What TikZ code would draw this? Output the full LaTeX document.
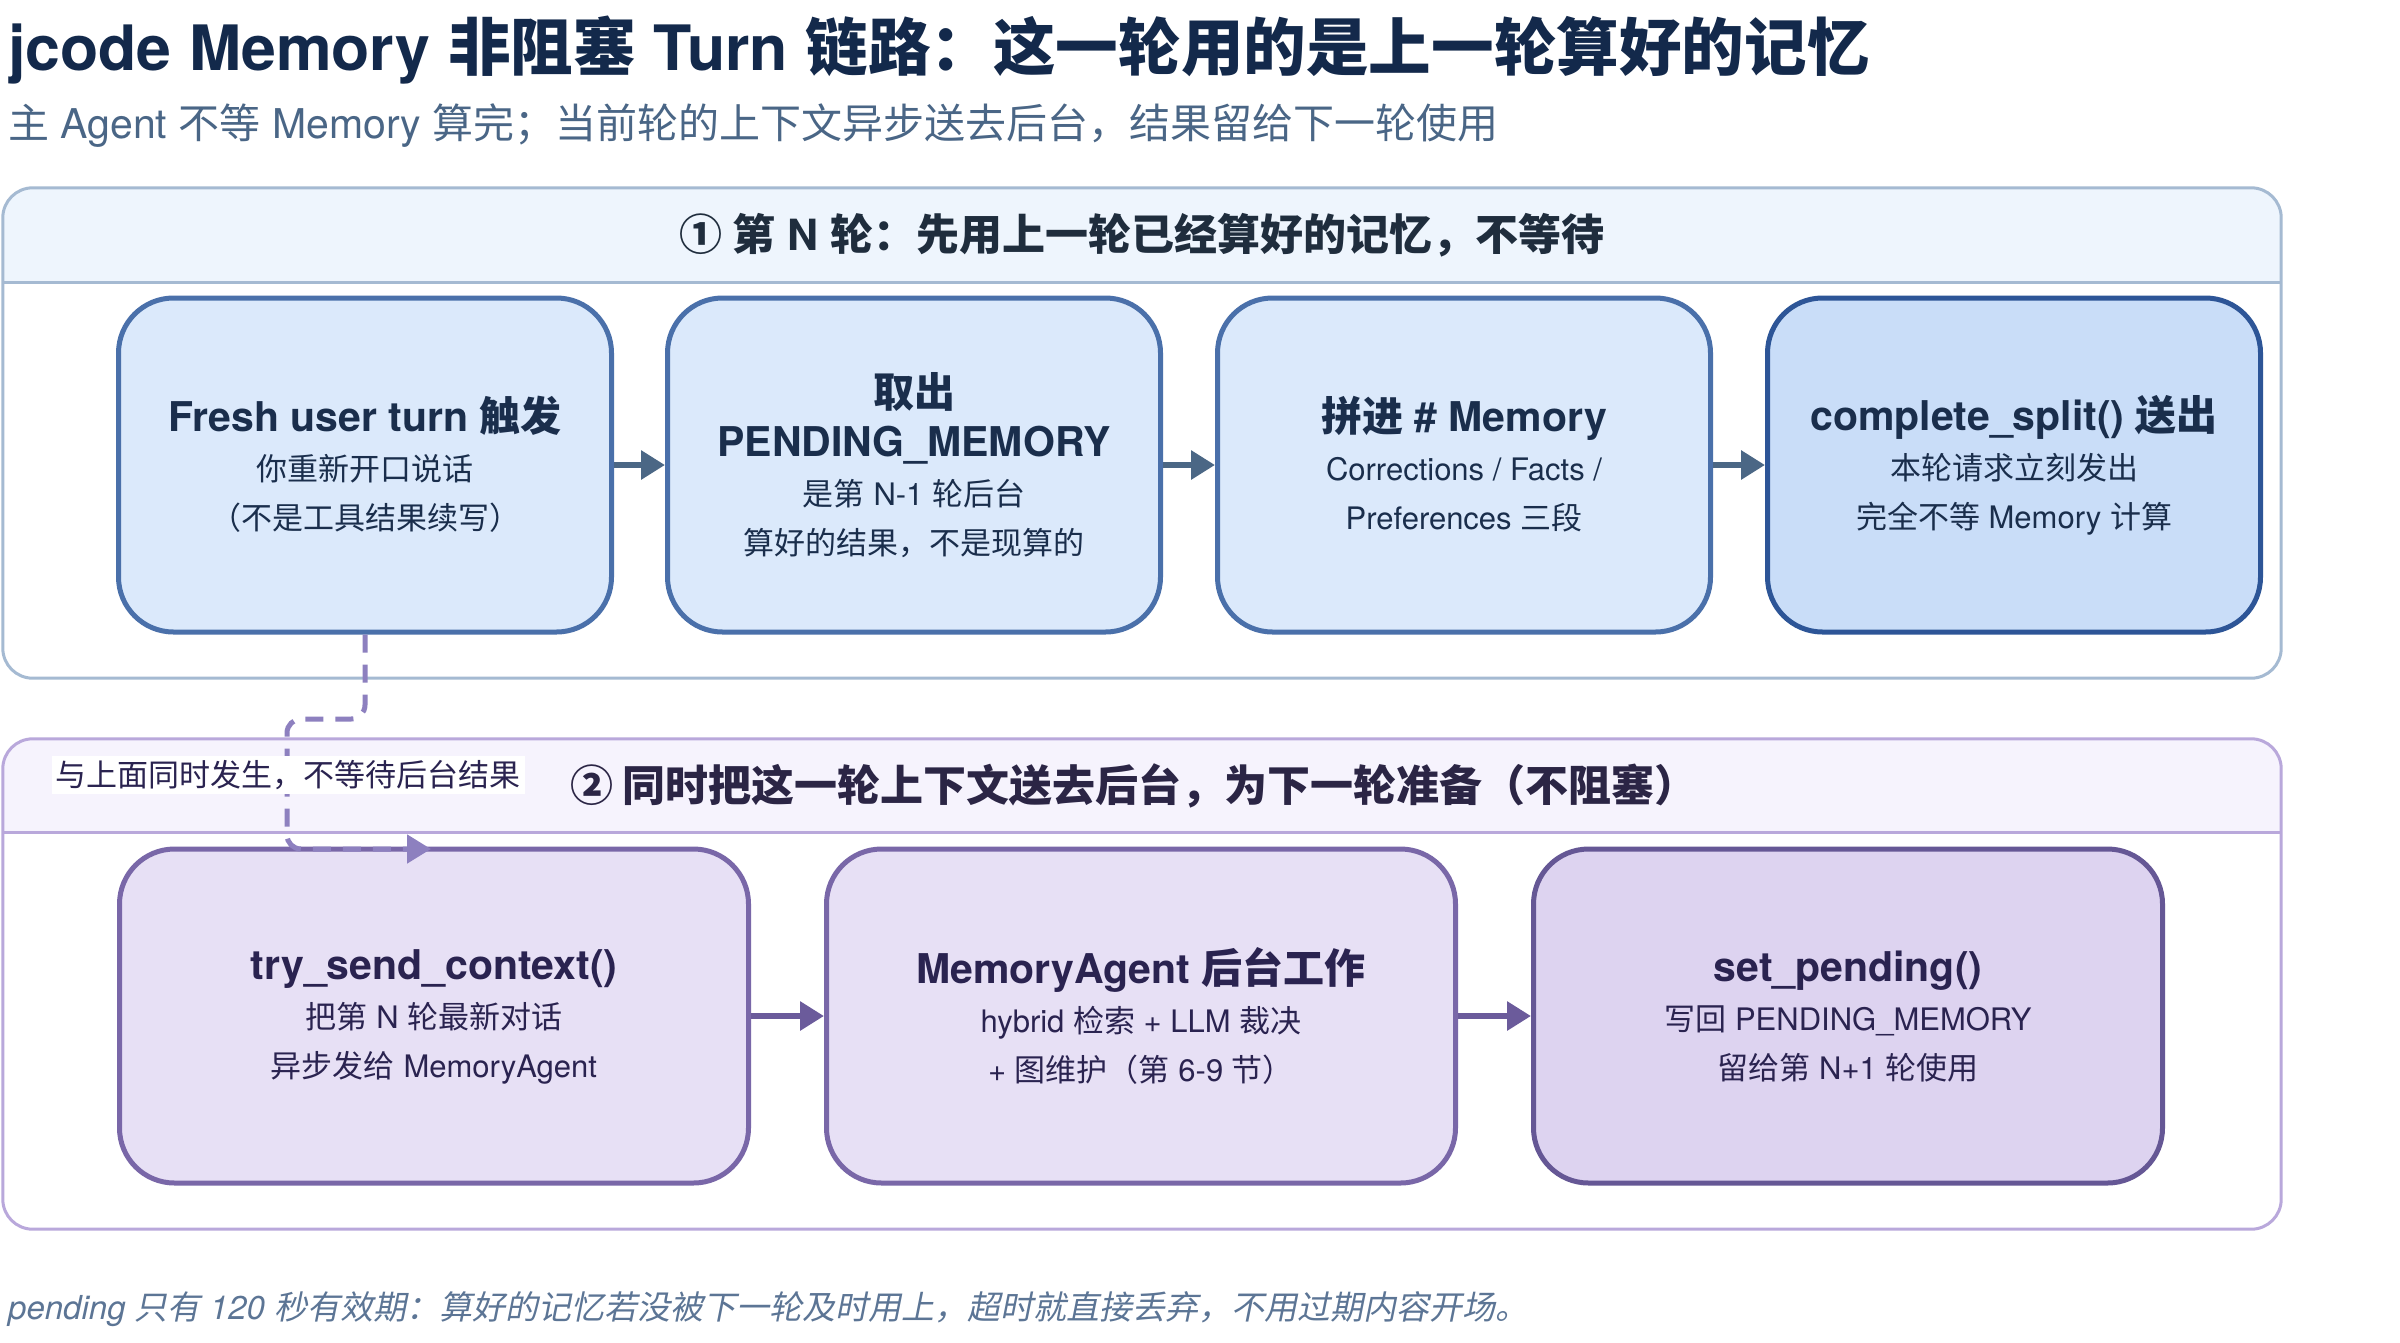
\documentclass[tikz,border=0pt]{standalone}
\usepackage{fontspec}
\setmainfont{TeX Gyre Heros}
\newfontfamily\cjk{Noto Sans CJK SC}
\newfontfamily\cjkit[FakeSlant=0.2]{Noto Sans CJK SC}
\usetikzlibrary{arrows.meta}
\newcommand\zh[1]{{\cjk #1}}
\newcommand\zhi[1]{{\cjkit #1}}
\definecolor{titlec}{HTML}{13294B}
\definecolor{subc}{HTML}{4A6686}
\definecolor{footc}{HTML}{5C7595}
\definecolor{ponel}{HTML}{A5BAD2}
\definecolor{ponehead}{HTML}{EEF5FD}
\definecolor{ptwol}{HTML}{B9A8DB}
\definecolor{ptwohead}{HTML}{F6F3FD}
\definecolor{bbfill}{HTML}{DBE9FB}
\definecolor{bbline}{HTML}{4A70AA}
\definecolor{bbfilld}{HTML}{C9DDF8}
\definecolor{bblined}{HTML}{2D5597}
\definecolor{bbtext}{HTML}{1A2E4C}
\definecolor{arrblue}{HTML}{4B6785}
\definecolor{pbfill}{HTML}{E7E0F5}
\definecolor{pbline}{HTML}{7967A8}
\definecolor{pbfilld}{HTML}{DDD3F0}
\definecolor{pblined}{HTML}{655795}
\definecolor{pbtext}{HTML}{2A2350}
\definecolor{arrpurp}{HTML}{6B5B9B}
\definecolor{dashc}{HTML}{8D80BF}
\definecolor{headtext}{HTML}{1F2D3D}
\definecolor{headtexttwo}{HTML}{2B2545}
\tikzset{
  bluebox/.style={draw=bbline, fill=bbfill, line width=5pt, rounded corners=55pt,
    minimum width=493pt, minimum height=334pt, align=center, text=bbtext,
    font=\fontsize{31}{49}\selectfont, inner sep=0pt},
  purpbox/.style={draw=pbline, fill=pbfill, line width=5pt, rounded corners=55pt,
    minimum width=629pt, minimum height=334pt, align=center, text=pbtext,
    font=\fontsize{31}{49}\selectfont, inner sep=0pt},
  arrb/.style={draw=arrblue, line width=6pt, -{Triangle[length=24pt,width=28pt]}},
  arrp/.style={draw=arrpurp, line width=6pt, -{Triangle[length=24pt,width=28pt]}},
  dashconn/.style={draw=dashc, line width=5pt, dash pattern=on 18pt off 12pt,
    rounded corners=14pt, -{Triangle[length=24pt,width=28pt]}},
  headlbl/.style={font=\bfseries\fontsize{43}{50}\selectfont, inner sep=0pt},
  panelbg/.style={fill=white, minimum width=2278pt, minimum height=490pt, inner sep=0pt},
}
\newcommand\ttl[1]{{\bfseries\fontsize{41}{49}\selectfont\rule[-10pt]{0pt}{42pt}#1}}
\newcommand\lst{\rule[-4pt]{0pt}{10pt}}
\begin{document}
\begin{tikzpicture}[x=1pt,y=-1pt]
\useasboundingbox (0,0) rectangle (2400,1342);
\fill[white] (0,0) rectangle (2400,1342);

% title and subtitle
\node[anchor=base west, inner sep=0pt, text=titlec, font=\bfseries\fontsize{62.6}{70}\selectfont]
  (title) at (8,70) {jcode Memory \zh{非阻塞} Turn \zh{链路：这一轮用的是上一轮算好的记忆}};
\node[anchor=base west, inner sep=0pt, text=subc, font=\fontsize{41}{48}\selectfont]
  (subtitle) at (8,138) {\zh{主} Agent \zh{不等} Memory \zh{算完；当前轮的上下文异步送去后台，结果留给下一轮使用}};

% panel 1
\node[panelbg] (pan1) at (1142,433) {};
\begin{scope}
  \clip[rounded corners=30pt] (pan1.north west) rectangle (pan1.south east);
  \fill[ponehead] (pan1.north west) rectangle (2281,282);
\end{scope}
\draw[ponel, line width=3pt] (3,282) -- (2281,282);
\draw[ponel, line width=3pt, rounded corners=30pt] (pan1.north west) rectangle (pan1.south east);
\node[headlbl, text=headtext] (h1) at (1142,235)
  {\zh{① 第} N \zh{轮：先用上一轮已经算好的记忆，不等待}};

% panel 2
\node[panelbg] (pan2) at (1142,984) {};
\begin{scope}
  \clip[rounded corners=30pt] (pan2.north west) rectangle (pan2.south east);
  \fill[ptwohead] (pan2.north west) rectangle (2281,832);
\end{scope}
\draw[ptwol, line width=3pt] (3,832) -- (2281,832);
\draw[ptwol, line width=3pt, rounded corners=30pt] (pan2.north west) rectangle (pan2.south east);
\node[headlbl, text=headtexttwo] (h2) at (1134,786)
  {\zh{② 同时把这一轮上下文送去后台，为下一轮准备（不阻塞）}};

% row 1 boxes
\node[bluebox] (b1) at (365,465)
  {\ttl{Fresh user turn \zh{触发}}\\ \zh{你重新开口说话}\\ \zh{（不是工具结果续写）}\lst};
\node[bluebox] (b2) at (914,465)
  {\ttl{\zh{取出}}\\ \ttl{PENDING\_MEMORY}\\ \zh{是第} N-1 \zh{轮后台}\\ \zh{算好的结果，不是现算的}\lst};
\node[bluebox] (b3) at (1464,465)
  {\ttl{\zh{拼进} \# Memory}\\ Corrections / Facts /\\ Preferences \zh{三段}\lst};
\node[bluebox, fill=bbfilld, draw=bblined] (b4) at (2014,465)
  {\ttl{complete\_split() \zh{送出}}\\ \zh{本轮请求立刻发出}\\ \zh{完全不等} Memory \zh{计算}\lst};

\draw[arrb] (b1.east) -- (b2.west);
\draw[arrb] (b2.east) -- (b3.west);
\draw[arrb] (b3.east) -- (b4.west);

% row 2 boxes
\node[purpbox] (a1) at (434,1016)
  {\ttl{try\_send\_context()}\\ \zh{把第} N \zh{轮最新对话}\\ \zh{异步发给} MemoryAgent\lst};
\node[purpbox] (a2) at (1141,1016)
  {\ttl{MemoryAgent \zh{后台工作}}\\ hybrid \zh{检索} + LLM \zh{裁决}\\ + \zh{图维护（第} 6-9 \zh{节）}\lst};
\node[purpbox, fill=pbfilld, draw=pblined] (a3) at (1848,1016)
  {\ttl{set\_pending()}\\ \zh{写回} PENDING\_MEMORY\\ \zh{留给第} N+1 \zh{轮使用}\lst};

\draw[arrp] (a1.east) -- (a2.west);
\draw[arrp] (a2.east) -- (a3.west);

% dashed parallel connector
\coordinate (dend) at (431,849);
\draw[dashconn] (b1.south) -- (365,719) -- (287,719) -- (287,849) -- (dend);

\node[fill=white, inner sep=4pt, text=pbtext, font=\fontsize{31}{38}\selectfont]
  (par) at (288,775) {\zh{与上面同时发生，不等待后台结果}};

% footer
\node[anchor=base west, inner sep=0pt, text=footc, font=\itshape\fontsize{33}{40}\selectfont]
  (foot) at (8,1319) {pending \zhi{只有} 120 \zhi{秒有效期：算好的记忆若没被下一轮及时用上，超时就直接丢弃，不用过期内容开场。}};
\end{tikzpicture}
\end{document}
